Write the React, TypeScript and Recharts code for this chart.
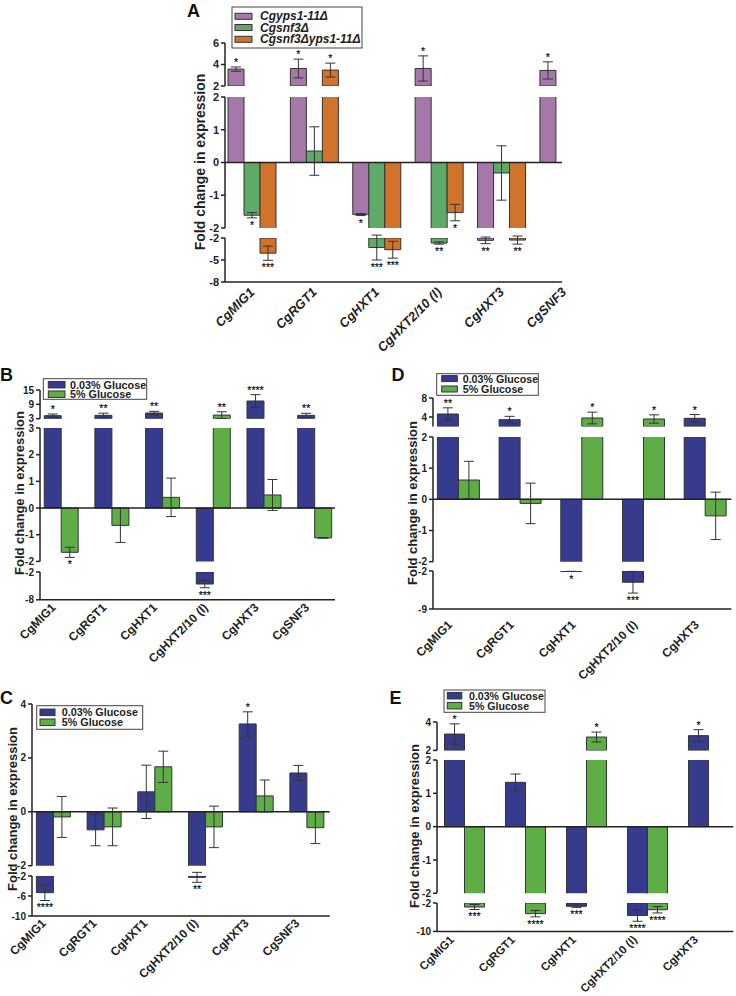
import React from "react";
import { BarChart, Bar, XAxis, YAxis, ErrorBar, LabelList, ReferenceLine } from "recharts";

const FONT = '"Liberation Sans", Arial, Helvetica, sans-serif';
const INK = "#222";

const PURPLE = "#a678aa";
const GREEN_A = "#5dab66";
const ORANGE = "#d2732b";
const BLUE = "#363b8d";
const GREEN = "#5fad47";

// ---------- A: mutant strains ----------
const genesA = ["CgMIG1", "CgRGT1", "CgHXT1", "CgHXT2/10 (l)", "CgHXT3", "CgSNF3"];
const yps1A = [3.57, 3.63, -1.59, 3.63, -2.32, 3.45];
const yps1ErrA = [0.2, 0.87, 0.03, 1.17, 0.45, 0.8];
const yps1SigA = ["*", "*", "*", "*", "**", "*"];
const snf3A = [-1.61, 0.35, -3.3, -2.69, -0.32, null];
const snf3ErrA = [0.08, 0.74, 1.7, 0.15, 0.83, null];
const snf3SigA = ["*", "", "***", "**", "", ""];
const dblA = [-4.07, 3.48, -3.6, -1.53, -2.28, null];
const dblErrA = [0.97, 0.65, 1.15, 0.25, 0.55, null];
const dblSigA = ["***", "*", "***", "*", "**", ""];

// ---------- B ----------
const genesB = ["CgMIG1", "CgRGT1", "CgHXT1", "CgHXT2/10 (l)", "CgHXT3", "CgSNF3"];
const lowB = [4.26, 4.4, 5.37, -4.6, 10.4, 4.4];
const lowErrB = [0.7, 0.9, 0.7, 0.8, 2.65, 0.85];
const lowSigB = ["*", "**", "**", "***", "****", "**"];
const highB = [-1.66, -0.65, 0.4, 4.5, 0.49, -1.12];
const highErrB = [0.19, 0.64, 0.72, 1.4, 0.58, 0.01];
const highSigB = ["*", "", "", "**", "", ""];

// ---------- C ----------
const genesC = ["CgMIG1", "CgRGT1", "CgHXT1", "CgHXT2/10 (l)", "CgHXT3", "CgSNF3"];
const lowC = [-5.33, -0.67, 0.74, -2.27, 3.26, 1.44];
const lowErrC = [1.57, 0.59, 0.99, 1.0, 0.45, 0.28];
const lowSigC = ["****", "", "", "**", "*", ""];
const highC = [-0.19, -0.56, 1.67, -0.56, 0.59, -0.59];
const highErrC = [0.76, 0.7, 0.58, 0.77, 0.59, 0.59];
const highSigC = ["", "", "", "", "", ""];

// ---------- D ----------
const genesD = ["CgMIG1", "CgRGT1", "CgHXT1", "CgHXT2/10 (l)", "CgHXT3"];
const lowD = [4.63, 3.44, -2.08, -4.07, 3.72];
const lowErrD = [1.3, 0.7, 0.02, 2.0, 0.8];
const lowSigD = ["**", "*", "*", "***", "*"];
const highD = [0.62, -0.13, 3.79, 3.58, -0.53];
const highErrD = [0.6, 0.65, 1.23, 0.88, 0.76];
const highSigD = ["", "", "*", "*", ""];

// ---------- E ----------
const genesE = ["CgMIG1", "CgRGT1", "CgHXT1", "CgHXT2/10 (l)", "CgHXT3"];
const lowE = [3.15, 1.33, -2.94, -5.5, 3.04];
const lowErrE = [0.72, 0.25, 0.3, 1.65, 0.42];
const lowSigE = ["*", "", "***", "****", "*"];
const highE = [-3.13, -5.0, 2.94, -3.9, 0];
const highErrE = [0.7, 0.9, 0.35, 0.9, 0.7];
const highSigE = ["***", "****", "*", "****", ""];

type Series = { name: string; color: string; values: (number | null)[]; errs: (number | null)[]; sigs: string[] };
type Segment = { domain: [number, number]; ticks: number[]; top: number; bottom: number; zero?: boolean };
type Panel = {
  genes: string[];
  series: Series[];
  segments: Segment[];
  axisX: number;
  axisEnd: number;
  padL: number;
  padR: number;
  gap: number;
  tickFont: number;
  geneFont: number;
  geneItalic: boolean;
  geneDx: number;
  geneDy: number;
};

const glucose = (low: (number | null)[], lowErr: (number | null)[], lowSig: string[], high: (number | null)[], highErr: (number | null)[], highSig: string[]): Series[] => [
  { name: "0.03% Glucose", color: BLUE, values: low, errs: lowErr, sigs: lowSig },
  { name: "5% Glucose", color: GREEN, values: high, errs: highErr, sigs: highSig },
];

const panelA: Panel = {
  genes: genesA,
  series: [
    { name: "Cgyps1-11Δ", color: PURPLE, values: yps1A, errs: yps1ErrA, sigs: yps1SigA },
    { name: "Cgsnf3Δ", color: GREEN_A, values: snf3A, errs: snf3ErrA, sigs: snf3SigA },
    { name: "Cgsnf3Δyps1-11Δ", color: ORANGE, values: dblA, errs: dblErrA, sigs: dblSigA },
  ],
  segments: [
    { domain: [2, 6], ticks: [2, 4, 6], top: 43, bottom: 86 },
    { domain: [-2, 2], ticks: [-2, -1, 0, 1, 2], top: 97, bottom: 228, zero: true },
    { domain: [-8, -2], ticks: [-8, -5, -2], top: 238, bottom: 282 },
  ],
  axisX: 225, axisEnd: 562, padL: -4.9, padR: -32.4, gap: 7.9,
  tickFont: 11, geneFont: 13, geneItalic: true, geneDx: 4, geneDy: 11,
};

const panelB: Panel = {
  genes: genesB,
  series: glucose(lowB, lowErrB, lowSigB, highB, highErrB, highSigB),
  segments: [
    { domain: [3, 15], ticks: [3, 9, 15], top: 390, bottom: 418.7 },
    { domain: [-2, 3], ticks: [-2, -1, 0, 1, 2, 3], top: 428.3, bottom: 561.7, zero: true },
    { domain: [-8, -2], ticks: [-8, -2], top: 571.5, bottom: 599.3 },
  ],
  axisX: 40, axisEnd: 335, padL: -3.8, padR: -5.4, gap: 8,
  tickFont: 10, geneFont: 12, geneItalic: false, geneDx: -5, geneDy: 8.5,
};

const panelC: Panel = {
  genes: genesC,
  series: glucose(lowC, lowErrC, lowSigC, highC, highErrC, highSigC),
  segments: [
    { domain: [-2, 4], ticks: [-2, 0, 2, 4], top: 704.3, bottom: 866, zero: true },
    { domain: [-10, -2], ticks: [-10, -6, -2], top: 876, bottom: 916 },
  ],
  axisX: 32.3, axisEnd: 330, padL: -3.6, padR: -2.9, gap: 8,
  tickFont: 10, geneFont: 12, geneItalic: false, geneDx: -7, geneDy: 8,
};

const panelD: Panel = {
  genes: genesD,
  series: glucose(lowD, lowErrD, lowSigD, highD, highErrD, highSigD),
  segments: [
    { domain: [2, 8], ticks: [4, 8], top: 398.3, bottom: 426.8 },
    { domain: [-2, 2], ticks: [-2, -1, 0, 1, 2], top: 437.3, bottom: 562, zero: true },
    { domain: [-9, -2], ticks: [-9, -2], top: 571.3, bottom: 609.3 },
  ],
  axisX: 433.3, axisEnd: 731.7, padL: -5.8, padR: -4.3, gap: 10.2,
  tickFont: 10, geneFont: 12, geneItalic: false, geneDx: -5, geneDy: 16.5,
};

const panelE: Panel = {
  genes: genesE,
  series: glucose(lowE, lowErrE, lowSigE, highE, highErrE, highSigE),
  segments: [
    { domain: [2, 4], ticks: [2, 4], top: 722.3, bottom: 750.7 },
    { domain: [-2, 2], ticks: [-2, -1, 0, 1, 2], top: 760, bottom: 893.3, zero: true },
    { domain: [-10, -2], ticks: [-10, -2], top: 903.3, bottom: 931.7 },
  ],
  axisX: 436.7, axisEnd: 733, padL: -2.7, padR: -6, gap: 10.2,
  tickFont: 10, geneFont: 11.5, geneItalic: false, geneDx: -10, geneDy: 9,
};

const PAD = 14;
const YW = 34;

// significance stars sit past the end of the error bar
function makeSig(k: number) {
  return function Sig(p: any) {
    if (typeof p.value !== "string") return null;
    const [txt, dir, err] = p.value.split("|");
    const vb = p.viewBox ?? p;
    if (!vb || vb.x == null) return null;
    const cx = vb.x + vb.width / 2;
    const top = Math.min(vb.y, vb.y + vb.height);
    const bot = Math.max(vb.y, vb.y + vb.height);
    const e = Number(err) * k;
    const y = dir === "u" ? top - e - 1 : bot + e + 11;
    return (
      <text x={cx} y={y} textAnchor="middle" fontSize={10.5} fontFamily={FONT} fill="#111" stroke="#111" strokeWidth={0.2}>
        {txt}
      </text>
    );
  };
}

function makeGeneTick(panel: Panel, baseY: number) {
  return function GeneTick(p: any) {
    const ax = p.x + panel.geneDx;
    const ay = baseY + panel.geneDy;
    return (
      <text
        x={ax}
        y={ay}
        transform={`rotate(-45 ${ax} ${ay})`}
        textAnchor="end"
        fontSize={panel.geneFont}
        fontWeight={700}
        fontStyle={panel.geneItalic ? "italic" : "normal"}
        fontFamily={FONT}
        fill={INK}
      >
        {p.payload.value}
      </text>
    );
  };
}

function SegmentChart({ panel, seg, last }: { panel: Panel; seg: Segment; last: boolean }) {
  const plotH = seg.bottom - seg.top;
  const xH = last ? 120 : 0;
  const width = YW + (panel.axisEnd - panel.axisX) + 6;
  const height = PAD + plotH + PAD + xH;
  const [lo, hi] = seg.domain;
  const k = plotH / (hi - lo);

  // a bar only shows in a break segment when it reaches into it
  const reaches = (v: number) => (lo > 0 ? v >= lo : hi < 0 ? v <= hi : true);

  const rows = panel.genes.map((g, i) => {
    const row: Record<string, any> = { gene: g };
    panel.series.forEach((s, j) => {
      const v = s.values[i];
      row[`v${j}`] = v != null && reaches(v) ? v : null;
      if (v != null && v >= lo && v <= hi) {
        row[`e${j}`] = s.errs[i] ?? 0;
        if (s.sigs[i]) row[`s${j}`] = `${s.sigs[i]}|${v >= 0 ? "u" : "d"}|${s.errs[i] ?? 0}`;
      }
    });
    return row;
  });

  return (
    <div style={{ position: "absolute", left: panel.axisX - YW, top: seg.top - PAD }}>
      <BarChart
        width={width}
        height={height}
        data={rows}
        margin={{ top: PAD, right: 6, bottom: PAD, left: 0 }}
        barGap={0}
        barCategoryGap={panel.gap}
      >
        <XAxis
          dataKey="gene"
          hide={!last}
          padding={{ left: panel.padL, right: panel.padR }}
          axisLine={{ stroke: INK, strokeWidth: 1.5 }}
          tickLine={false}
          interval={0}
          height={xH}
          tick={makeGeneTick(panel, PAD + plotH)}
        />
        <YAxis
          type="number"
          domain={seg.domain}
          ticks={seg.ticks}
          interval={0}
          allowDataOverflow
          width={YW}
          axisLine={{ stroke: INK, strokeWidth: 1.5 }}
          tickLine={{ stroke: INK, strokeWidth: 1.5 }}
          tickSize={4}
          tickMargin={2}
          tick={{ fontSize: panel.tickFont, fontWeight: 700, fill: INK, fontFamily: FONT }}
        />
        {seg.zero && <ReferenceLine y={0} stroke={INK} strokeWidth={1.5} />}
        {panel.series.map((s, j) => (
          <Bar key={s.name} dataKey={`v${j}`} fill={s.color} stroke="#333" strokeWidth={1} isAnimationActive={false}>
            <ErrorBar dataKey={`e${j}`} width={5} stroke="#333" strokeWidth={1} direction="y" />
            <LabelList dataKey={`s${j}`} content={makeSig(k)} />
          </Bar>
        ))}
      </BarChart>
    </div>
  );
}

function PanelView({ panel }: { panel: Panel }) {
  return (
    <>
      {panel.segments.map((seg, i) => (
        <SegmentChart key={i} panel={panel} seg={seg} last={i === panel.segments.length - 1} />
      ))}
    </>
  );
}

type LegendSpec = {
  x: number; y: number; w: number; h: number;
  rows: number[]; swX: number; swW: number; swH: number; textX: number;
  fontSize: number; italic: boolean; series: Series[];
};

const legends: LegendSpec[] = [
  { x: 232, y: 7, w: 130, h: 41, rows: [16.3, 27.5, 39.3], swX: 3, swW: 17, swH: 6, textX: 28, fontSize: 12, italic: true, series: panelA.series },
  { x: 43.3, y: 378.7, w: 103.4, h: 20.6, rows: [384.7, 394.2], swX: 5, swW: 16.7, swH: 6.5, textX: 26.7, fontSize: 10.8, italic: false, series: panelB.series },
  { x: 436.7, y: 373.7, w: 101.6, h: 21.6, rows: [378.6, 389], swX: 5, swW: 15.6, swH: 6, textX: 26, fontSize: 10.7, italic: false, series: panelD.series },
  { x: 36.7, y: 705.7, w: 106, h: 23.6, rows: [712.3, 722.3], swX: 3.3, swW: 15, swH: 6.5, textX: 25, fontSize: 10.8, italic: false, series: panelC.series },
  { x: 444, y: 690, w: 101, h: 22.3, rows: [695.7, 705.7], swX: 3.3, swW: 14.5, swH: 6.5, textX: 25, fontSize: 10.6, italic: false, series: panelE.series },
];

const letters = [
  { t: "A", x: 187, y: 16.5 },
  { t: "B", x: 0, y: 380.5 },
  { t: "D", x: 391.5, y: 380.5 },
  { t: "C", x: 0, y: 703.5 },
  { t: "E", x: 389.5, y: 703.5 },
];

const yLabels = [
  { x: 200, y: 162, size: 14 },
  { x: 19, y: 493, size: 13 },
  { x: 412, y: 503, size: 13 },
  { x: 12, y: 809, size: 13 },
  { x: 414, y: 826, size: 13 },
];

export default function App() {
  return (
    <div style={{ position: "absolute", left: 0, top: 0, width: 736, height: 996, background: "#fff", overflow: "hidden", fontFamily: FONT }}>
      <PanelView panel={panelA} />
      <PanelView panel={panelB} />
      <PanelView panel={panelC} />
      <PanelView panel={panelD} />
      <PanelView panel={panelE} />
      <svg width={736} height={996} style={{ position: "absolute", left: 0, top: 0, pointerEvents: "none" }}>
        {letters.map((l) => (
          <text key={l.t} x={l.x} y={l.y} fontSize={18} fontWeight={700} fontFamily={FONT} fill="#111">
            {l.t}
          </text>
        ))}
        {yLabels.map((l, i) => (
          <text
            key={i}
            x={l.x}
            y={l.y}
            transform={`rotate(-90 ${l.x} ${l.y})`}
            textAnchor="middle"
            dominantBaseline="central"
            fontSize={l.size}
            fontWeight={700}
            fontFamily={FONT}
            fill={INK}
          >
            Fold change in expression
          </text>
        ))}
        {legends.map((lg, i) => (
          <g key={i}>
            <rect x={lg.x} y={lg.y} width={lg.w} height={lg.h} fill="#fff" stroke="#444" strokeWidth={1} />
            {lg.series.map((s, j) => (
              <g key={s.name}>
                <rect x={lg.x + lg.swX} y={lg.rows[j] - lg.swH / 2} width={lg.swW} height={lg.swH} fill={s.color} stroke="#333" strokeWidth={1} />
                <text
                  x={lg.x + lg.textX}
                  y={lg.rows[j]}
                  dominantBaseline="central"
                  fontSize={lg.fontSize}
                  fontWeight={700}
                  fontStyle={lg.italic ? "italic" : "normal"}
                  fontFamily={FONT}
                  fill={INK}
                >
                  {s.name}
                </text>
              </g>
            ))}
          </g>
        ))}
      </svg>
    </div>
  );
}
